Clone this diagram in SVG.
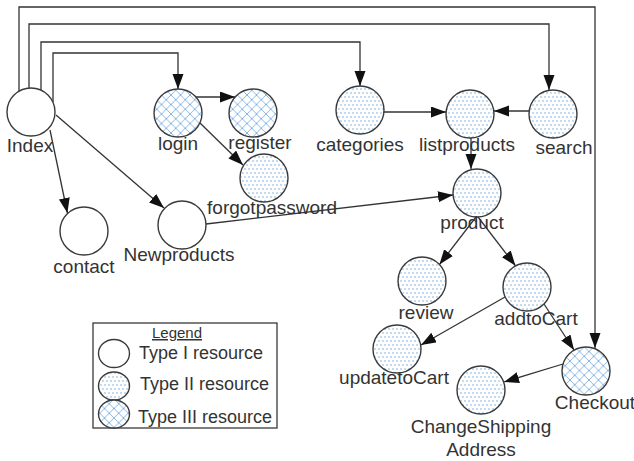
<svg xmlns="http://www.w3.org/2000/svg" width="634" height="461" viewBox="0 0 634 461">
  <defs>
    <!-- Type II fill: staggered dots -->
    <pattern id="dots" width="8" height="8" patternUnits="userSpaceOnUse">
      <rect width="8" height="8" fill="#ffffff"/>
      <circle cx="1" cy="1" r="0.7" fill="#5b9bd5"/>
      <circle cx="5" cy="1" r="0.7" fill="#5b9bd5"/>
      <circle cx="3" cy="5" r="0.7" fill="#5b9bd5"/>
      <circle cx="7" cy="5" r="0.7" fill="#5b9bd5"/>
    </pattern>
    <!-- Type III fill: diagonal cross-hatch -->
    <pattern id="hatch" width="9.5" height="9.5" patternUnits="userSpaceOnUse">
      <rect width="9.5" height="9.5" fill="#ffffff"/>
      <path d="M-1,-1 L10.5,10.5 M10.5,-1 L-1,10.5" stroke="#7aaee2" stroke-width="0.9"/>
    </pattern>
    <marker id="arrow" markerWidth="16" markerHeight="12" refX="15" refY="5.5" orient="auto" markerUnits="userSpaceOnUse">
      <path d="M0,0 L15,5.5 L0,11 z" fill="#111111"/>
    </marker>
  </defs>
  <style>
    .edge { fill: none; stroke: #333333; stroke-width: 1.3; marker-end: url(#arrow); }
    .node { stroke: #3a3a3a; stroke-width: 1.4; }
    .t1 { fill: #ffffff; }
    .t2 { fill: url(#dots); }
    .t3 { fill: url(#hatch); }
    .label { font-family: "Liberation Sans", Arial, sans-serif; font-size: 19px; fill: #333333; text-anchor: middle; }
    .legend-text { font-family: "Liberation Sans", Arial, sans-serif; font-size: 18px; fill: #333333; }
  </style>

  <!-- connectors -->
  <g id="connectors">
    <path class="edge" d="M19,91 V7 H595 V348"/>
    <path class="edge" d="M29,88 V24 H549 V90"/>
    <path class="edge" d="M41,90 V42 H360 V86"/>
    <path class="edge" d="M53,102 V53 H178 V89"/>
    <path class="edge" d="M50,130 L67.4,213"/>
    <path class="edge" d="M56,115 L164,208"/>
    <path class="edge" d="M196,97 L235,97"/>
    <path class="edge" d="M200,123 L243,165"/>
    <path class="edge" d="M384,112 L446,112"/>
    <path class="edge" d="M529,111 L494,111"/>
    <path class="edge" d="M471,138 L471,169"/>
    <path class="edge" d="M206,224 L453,195"/>
    <path class="edge" d="M476,217 L439.4,264.6"/>
    <path class="edge" d="M478,217 L515.5,265.8"/>
    <path class="edge" d="M505,297 L421,345"/>
    <path class="edge" d="M544,304 L574,350"/>
    <path class="edge" d="M563,364 L504,382"/>
  </g>

  <!-- nodes -->
  <g id="index"><circle class="node t1" cx="31" cy="112" r="24"/><text class="label" x="30" y="152">Index</text></g>
  <g id="login"><circle class="node t3" cx="178" cy="113" r="24"/><text class="label" x="178" y="150">login</text></g>
  <g id="register"><circle class="node t3" cx="253" cy="113" r="24"/><text class="label" x="260" y="149">register</text></g>
  <g id="forgotpassword"><circle class="node t2" cx="264" cy="178" r="24"/><text class="label" x="272" y="214">forgotpassword</text></g>
  <g id="contact"><circle class="node t1" cx="84" cy="231" r="24"/><text class="label" x="84" y="273">contact</text></g>
  <g id="newproducts"><circle class="node t1" cx="182" cy="225" r="24"/><text class="label" x="179" y="261">Newproducts</text></g>
  <g id="categories"><circle class="node t2" cx="360" cy="110" r="24"/><text class="label" x="360" y="151">categories</text></g>
  <g id="listproducts"><circle class="node t2" cx="470" cy="114" r="24"/><text class="label" x="467" y="151">listproducts</text></g>
  <g id="search"><circle class="node t2" cx="553" cy="114" r="24"/><text class="label" x="564" y="154">search</text></g>
  <g id="product"><circle class="node t2" cx="477" cy="193" r="24"/><text class="label" x="472" y="229">product</text></g>
  <g id="review"><circle class="node t2" cx="422" cy="281" r="24"/><text class="label" x="426" y="319">review</text></g>
  <g id="addtocart"><circle class="node t2" cx="527" cy="287" r="24"/><text class="label" x="536" y="325">addtoCart</text></g>
  <g id="updatetocart"><circle class="node t2" cx="397" cy="349" r="24"/><text class="label" x="394" y="384">updatetoCart</text></g>
  <g id="checkout"><circle class="node t3" cx="586" cy="371" r="24"/><text class="label" x="595" y="409">Checkout</text></g>
  <g id="changeshipping"><circle class="node t2" cx="481" cy="390" r="24"/><text class="label" x="481" y="433">ChangeShipping</text><text class="label" x="481" y="456">Address</text></g>

  <!-- legend -->
  <g id="legend">
    <rect x="93" y="323" width="184" height="105" fill="#ffffff" stroke="#3a3a3a" stroke-width="1.3"/>
    <text x="177" y="338" font-family="Liberation Sans, Arial, sans-serif" font-size="15" fill="#333333" text-anchor="middle" text-decoration="underline">Legend</text>
    <ellipse class="node t1" cx="114" cy="353.5" rx="15.5" ry="14"/>
    <ellipse class="node t2" cx="114" cy="386" rx="15.5" ry="14"/>
    <ellipse class="node t3" cx="114" cy="414" rx="15.5" ry="14"/>
    <text class="legend-text" x="139" y="359">Type I resource</text>
    <text class="legend-text" x="140" y="390">Type II resource</text>
    <text class="legend-text" x="138" y="423">Type III resource</text>
  </g>
</svg>
